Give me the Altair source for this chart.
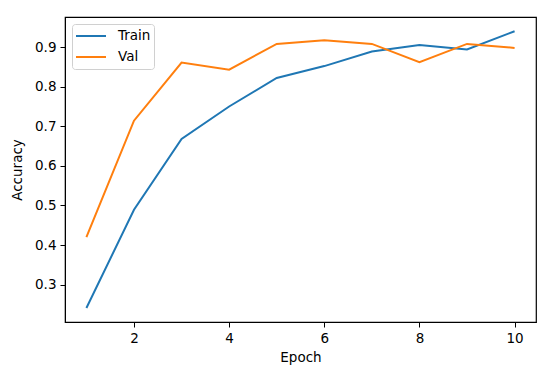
import altair as alt
import pandas as pd

epochs = [1, 2, 3, 4, 5, 6, 7, 8, 9, 10]
train_acc = [0.241, 0.489, 0.668, 0.750, 0.822, 0.852, 0.889, 0.905, 0.894, 0.940]
val_acc = [0.420, 0.714, 0.861, 0.843, 0.908, 0.917, 0.908, 0.862, 0.908, 0.898]
series = ["Train", "Val"]
colors = ["#1f77b4", "#ff7f0e"]
x_ticks = [2, 4, 6, 8, 10]
y_ticks = [0.3, 0.4, 0.5, 0.6, 0.7, 0.8, 0.9]

rows = []
for e, v in zip(epochs, train_acc):
    rows.append({"Epoch": e, "Accuracy": v, "Series": "Train"})
for e, v in zip(epochs, val_acc):
    rows.append({"Epoch": e, "Accuracy": v, "Series": "Val"})
df = pd.DataFrame(rows)

FONT = "DejaVu Sans"

chart = (
    alt.Chart(df)
    .mark_line(strokeWidth=2)
    .encode(
        x=alt.X(
            "Epoch:Q",
            scale=alt.Scale(domain=[0.55, 10.45], nice=False, zero=False),
            axis=alt.Axis(values=x_ticks, title="Epoch", format="d"),
        ),
        y=alt.Y(
            "Accuracy:Q",
            scale=alt.Scale(domain=[0.2056, 0.976], nice=False, zero=False),
            axis=alt.Axis(values=y_ticks, title="Accuracy", format=".1f"),
        ),
        color=alt.Color(
            "Series:N",
            scale=alt.Scale(domain=series, range=colors),
            legend=alt.Legend(
                title=None,
                orient="none",
                legendX=7,
                legendY=7,
                symbolType="stroke",
                symbolSize=900,
                symbolStrokeWidth=2,
                fillColor="white",
                strokeColor="#d0d0d0",
                cornerRadius=3,
                padding=3,
                labelFont=FONT,
                labelFontSize=13.5,
                labelColor="#000000",
                rowPadding=3,
                clipHeight=18,
                labelOffset=11,
            ),
        ),
    )
    .properties(
        width=471,
        height=305,
        padding={"left": 57, "top": 9, "right": 6, "bottom": 50},
        autosize=alt.AutoSizeParams(type="none"),
    )
    .configure_view(stroke="#000000", strokeWidth=1.2)
    .configure_axis(
        grid=False,
        domainColor="#000000",
        tickColor="#000000",
        tickSize=5,
        labelFont=FONT,
        labelFontSize=13.5,
        labelColor="#000000",
        titleFont=FONT,
        titleFontSize=13.5,
        titleFontWeight="normal",
        titleColor="#000000",
        labelPadding=4,
    )
    .configure_axisY(titlePadding=10)
    .configure_axisX(titlePadding=6)
)

chart.save("out.html", embed_options={"renderer": "svg", "actions": False})
